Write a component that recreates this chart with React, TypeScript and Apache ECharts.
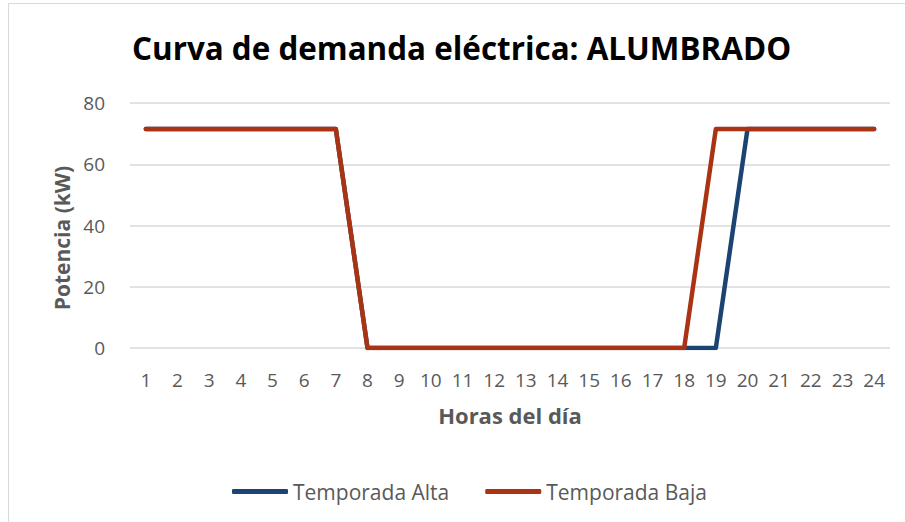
import React, { useEffect, useRef } from "react";
import * as echarts from "echarts";

const categories = ["1","2","3","4","5","6","7","8","9","10","11","12","13","14","15","16","17","18","19","20","21","22","23","24"];
const temporadaAlta = [71.5,71.5,71.5,71.5,71.5,71.5,71.5,0,0,0,0,0,0,0,0,0,0,0,0,71.5,71.5,71.5,71.5,71.5];
const temporadaBaja = [71.5,71.5,71.5,71.5,71.5,71.5,71.5,0,0,0,0,0,0,0,0,0,0,0,71.5,71.5,71.5,71.5,71.5,71.5];
const titleText = "Curva de demanda eléctrica: ALUMBRADO";
const xName = "Horas del día";
const yName = "Potencia (kW)";

export default function App() {
  const ref = useRef<HTMLDivElement>(null);
  useEffect(() => {
    document.body.style.margin = "0";
    const chart = echarts.init(ref.current!, null, { renderer: "svg" });
    const font = "'Open Sans', sans-serif";
    chart.setOption({
      animation: false,
      backgroundColor: "#fff",
      textStyle: { fontFamily: font },
      title: {
        text: titleText,
        left: 132,
        top: 32,
        padding: 0,
        textStyle: { fontFamily: font, fontSize: 31.4, fontWeight: "bold", color: "#000" },
      },
      graphic: [
        { type: "line", shape: { x1: 8.5, y1: 3.5, x2: 905, y2: 3.5 }, style: { stroke: "#d9d9d9", lineWidth: 1 } },
        { type: "line", shape: { x1: 8.5, y1: 3.5, x2: 8.5, y2: 522 }, style: { stroke: "#d9d9d9", lineWidth: 1 } },
        {
          type: "text",
          x: 62,
          y: 238,
          rotation: Math.PI / 2,
          style: {
            text: yName,
            fontFamily: font,
            fontSize: 21,
            fontWeight: "bold",
            fill: "#595959",
            align: "center",
            verticalAlign: "middle",
          },
        },
      ],
      legend: {
        top: 476,
        left: 227,
        itemWidth: 56,
        itemHeight: 5,
        itemGap: 36,
        icon: "roundRect",
        textStyle: { fontFamily: font, fontSize: 21, color: "#595959" },
        data: ["Temporada Alta", "Temporada Baja"],
      },
      grid: { left: 130, right: 15, top: 103, bottom: 174, containLabel: false },
      xAxis: {
        type: "category",
        data: categories,
        boundaryGap: true,
        name: xName,
        nameLocation: "middle",
        nameGap: 56,
        nameTextStyle: { fontFamily: font, fontSize: 22, fontWeight: "bold", color: "#595959" },
        axisLine: { show: false },
        axisTick: { show: false },
        axisLabel: { fontFamily: font, fontSize: 19, color: "#595959", margin: 22 },
      },
      yAxis: {
        type: "value",
        min: 0,
        max: 80,
        interval: 20,
        axisLine: { show: false },
        axisTick: { show: false },
        axisLabel: { fontFamily: font, fontSize: 19, color: "#595959", margin: 25 },
        splitLine: { lineStyle: { color: "#d9d9d9", width: 1.5 } },
      },
      series: [
        {
          name: "Temporada Alta",
          type: "line",
          data: temporadaAlta,
          showSymbol: false,
          symbol: "none",
          lineStyle: { color: "#1b4473", width: 4.5, cap: "round", join: "round" },
          itemStyle: { color: "#1b4473" },
        },
        {
          name: "Temporada Baja",
          type: "line",
          data: temporadaBaja,
          showSymbol: false,
          symbol: "none",
          lineStyle: { color: "#aa3314", width: 4.5, cap: "round", join: "round" },
          itemStyle: { color: "#aa3314" },
        },
      ],
    });
    return () => chart.dispose();
  }, []);
  return <div ref={ref} style={{ width: 905, height: 522 }} />;
}
